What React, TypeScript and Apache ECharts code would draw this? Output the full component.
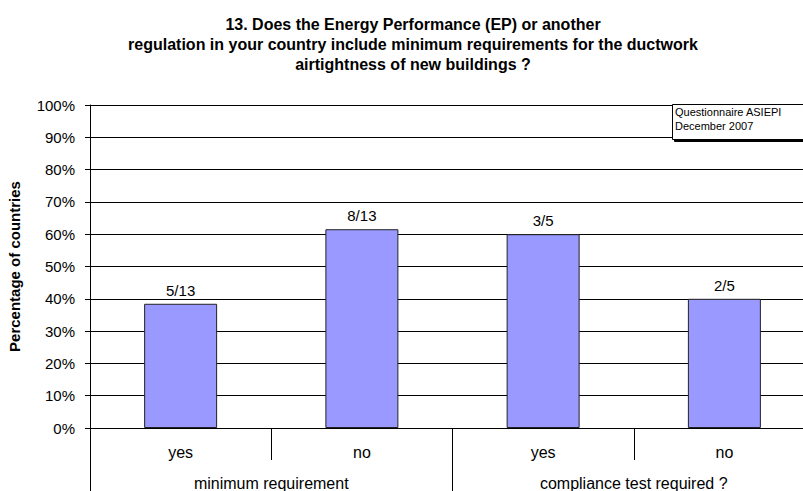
import React, { useEffect, useRef } from "react";
import * as echarts from "echarts";

const titleLines = [
  "13. Does the Energy Performance (EP) or another",
  "regulation in your country include minimum requirements for the ductwork",
  "airtightness of new buildings ?",
];
const subCategories = ["yes", "no", "yes", "no"];
const groupCategories = ["minimum requirement", "compliance test required ?"];
const percentValues = [38.46, 61.54, 60, 40];
const barLabels = ["5/13", "8/13", "3/5", "2/5"];
const yAxisName = "Percentage of countries";
const noteLines = ["Questionnaire ASIEPI", "December 2007"];

export default function App() {
  const ref = useRef<HTMLDivElement>(null);
  useEffect(() => {
    if (!ref.current) return;
    const chart = echarts.init(ref.current, null, { renderer: "svg" });
    const font = "Arial, 'Liberation Sans', Helvetica, sans-serif";
    chart.setOption({
      animation: false,
      backgroundColor: "#ffffff",
      textStyle: { fontFamily: font, color: "#000" },
      title: {
        text: titleLines.join("\n"),
        left: 408,
        textAlign: "center",
        top: 9,
        textStyle: {
          fontFamily: font,
          fontSize: 16,
          fontWeight: "bold",
          lineHeight: 20,
          color: "#000",
        },
      },
      grid: {
        left: 90,
        top: 105,
        bottom: 63,
        right: -12,
        containLabel: false,
        outerBoundsMode: "none",
      },
      xAxis: [
        {
          type: "category",
          data: subCategories,
          position: "bottom",
          axisLine: { show: true, lineStyle: { color: "#000", width: 1 } },
          axisTick: {
            show: true,
            alignWithLabel: false,
            interval: 0,
            length: 32,
            lineStyle: { color: "#000", width: 1 },
          },
          axisLabel: {
            interval: 0,
            margin: 16,
            fontSize: 16,
            color: "#000",
            fontFamily: font,
          },
        },
        {
          type: "category",
          data: groupCategories,
          position: "bottom",
          offset: 0,
          axisLine: { show: false },
          axisTick: {
            show: true,
            interval: 0,
            length: 70,
            lineStyle: { color: "#000", width: 1 },
          },
          axisLabel: {
            interval: 0,
            margin: 47,
            fontSize: 16,
            color: "#000",
            fontFamily: font,
          },
        },
      ],
      yAxis: {
        type: "value",
        min: 0,
        max: 100,
        interval: 10,
        name: yAxisName,
        nameLocation: "middle",
        nameGap: 68,
        nameRotate: 90,
        nameTextStyle: {
          fontFamily: font,
          fontSize: 15,
          fontWeight: "bold",
          color: "#000",
        },
        axisLine: { show: true, lineStyle: { color: "#000", width: 1 } },
        axisTick: { show: true, length: 5, lineStyle: { color: "#000" } },
        axisLabel: {
          formatter: "{value}%",
          margin: 15,
          fontSize: 15,
          color: "#000",
          fontFamily: font,
        },
        splitLine: { show: true, lineStyle: { color: "#000", width: 1 } },
      },
      series: [
        {
          type: "bar",
          xAxisIndex: 0,
          data: percentValues,
          barWidth: 73,
          itemStyle: { color: "#9999FF", borderColor: "#222", borderWidth: 1 },
          label: {
            show: true,
            position: "top",
            distance: 6,
            fontSize: 15,
            color: "#000",
            fontFamily: font,
            formatter: (p: any) => barLabels[p.dataIndex],
          },
        },
      ],
      graphic: [
        {
          type: "rect",
          left: 672,
          top: 104,
          shape: { width: 140, height: 35 },
          style: {
            fill: "#fff",
            stroke: "#000",
            lineWidth: 1,
            shadowColor: "#000",
            shadowBlur: 0,
            shadowOffsetX: 2,
            shadowOffsetY: 2,
          },
          z: 100,
        },
        {
          type: "text",
          left: 675,
          top: 105,
          style: {
            text: noteLines.join("\n"),
            fontFamily: font,
            fontSize: 11,
            lineHeight: 14,
            fill: "#000",
          },
          z: 101,
        },
      ],
    });
    return () => chart.dispose();
  }, []);
  return <div ref={ref} style={{ width: 803, height: 491, position: "absolute", left: 0, top: 0 }} />;
}
